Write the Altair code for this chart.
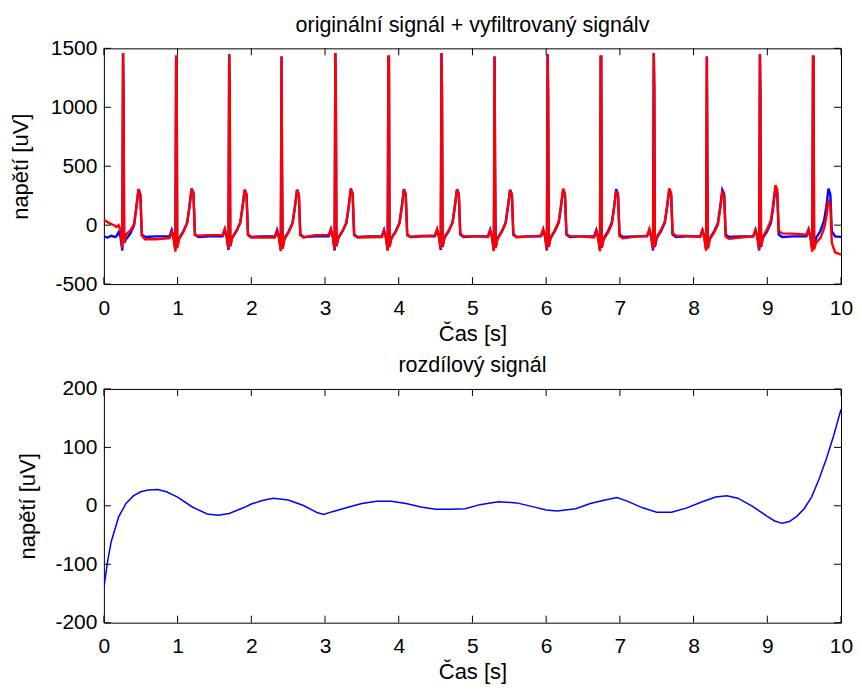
import altair as alt
import pandas as pd

# ---------------- data ----------------
# time [s], one heartbeat per line
ecg_t = [
    0.00, 0.05, 0.10, 0.15,
    0.17, 0.20, 0.225, 0.25, 0.26, 0.267, 0.275, 0.30, 0.36, 0.41, 0.44, 0.47, 0.495, 0.515, 0.56, 0.71,
    0.89, 0.92, 0.945, 0.97, 0.98, 0.987, 0.995, 1.02, 1.08, 1.13, 1.16, 1.19, 1.215, 1.235, 1.28, 1.43,
    1.61, 1.64, 1.665, 1.69, 1.70, 1.707, 1.715, 1.74, 1.80, 1.85, 1.88, 1.91, 1.935, 1.955, 2.00, 2.15,
    2.32, 2.35, 2.375, 2.40, 2.41, 2.417, 2.425, 2.45, 2.51, 2.56, 2.59, 2.62, 2.645, 2.665, 2.71, 2.86,
    3.05, 3.08, 3.105, 3.13, 3.14, 3.147, 3.155, 3.18, 3.24, 3.29, 3.32, 3.35, 3.375, 3.395, 3.44, 3.59,
    3.77, 3.80, 3.825, 3.85, 3.86, 3.867, 3.875, 3.90, 3.96, 4.01, 4.04, 4.07, 4.095, 4.115, 4.16, 4.31,
    4.49, 4.52, 4.545, 4.57, 4.58, 4.587, 4.595, 4.62, 4.68, 4.73, 4.76, 4.79, 4.815, 4.835, 4.88, 5.03,
    5.21, 5.24, 5.265, 5.29, 5.30, 5.307, 5.315, 5.34, 5.40, 5.45, 5.48, 5.51, 5.535, 5.555, 5.60, 5.75,
    5.93, 5.96, 5.985, 6.01, 6.02, 6.027, 6.035, 6.06, 6.12, 6.17, 6.20, 6.23, 6.255, 6.275, 6.32, 6.47,
    6.65, 6.68, 6.705, 6.73, 6.74, 6.747, 6.755, 6.78, 6.84, 6.89, 6.92, 6.95, 6.975, 6.995, 7.04, 7.19,
    7.37, 7.40, 7.425, 7.45, 7.46, 7.467, 7.475, 7.50, 7.56, 7.61, 7.64, 7.67, 7.695, 7.715, 7.76, 7.91,
    8.09, 8.12, 8.145, 8.17, 8.18, 8.187, 8.195, 8.22, 8.28, 8.33, 8.36, 8.39, 8.415, 8.435, 8.48, 8.63,
    8.81, 8.84, 8.865, 8.89, 8.90, 8.907, 8.915, 8.94, 9.00, 9.05, 9.08, 9.11, 9.135, 9.155, 9.20, 9.35,
    9.53, 9.56, 9.585, 9.61, 9.62, 9.627, 9.635, 9.66, 9.72, 9.77, 9.80, 9.83, 9.855, 9.875, 9.92, 10.0,
]

# original signal (blue) [uV]
ecg_original = [
    -95, -105, -90, -100,
    -95, -60, -100, -215, 1460, 1110, -150, -120, -70, 0, 150, 305, 260, -80, -100, -95,
    -95, -40, -100, -210, 1430, 1430, -180, -110, -50, 20, 150, 310, 270, -80, -100, -95,
    -95, -40, -100, -210, 1450, 1130, -180, -110, -50, 20, 150, 300, 260, -80, -100, -95,
    -95, -40, -100, -210, 1430, 480, -190, -110, -50, 20, 150, 300, 260, -80, -100, -95,
    -95, -40, -100, -215, 1460, 1100, -180, -110, -50, 20, 150, 310, 265, -80, -100, -95,
    -95, -40, -100, -210, 1430, 1430, -180, -110, -50, 20, 150, 305, 265, -80, -100, -95,
    -95, -40, -100, -210, 1460, 1110, -185, -110, -50, 20, 150, 300, 260, -80, -100, -95,
    -95, -40, -100, -215, 1430, 480, -190, -110, -50, 20, 150, 300, 260, -80, -100, -95,
    -95, -40, -100, -215, 1450, 1080, -185, -110, -50, 20, 150, 300, 260, -80, -100, -95,
    -95, -40, -100, -210, 1430, 1430, -180, -110, -50, 20, 150, 305, 265, -80, -100, -95,
    -95, -40, -100, -215, 1460, 1150, -185, -110, -50, 20, 150, 300, 260, -80, -100, -95,
    -95, -40, -100, -210, 1430, 480, -190, -110, -50, 20, 150, 300, 265, -80, -100, -95,
    -95, -40, -100, -215, 1450, 1080, -185, -110, -50, 20, 150, 310, 270, -80, -100, -95,
    -95, -40, -100, -210, 1430, 1430, -180, -110, -50, 40, 150, 310, 260, -50, -95, -100,
]

# filtered signal (red) [uV]
ecg_filtered = [
    45, 25, 10, -5,
    -15, 0, -40, -200, 1460, 1110, -150, -80, -45, 10, 150, 305, 255, -90, -120, -120,
    -110, -55, -115, -225, 1430, 1430, -195, -120, -55, 20, 150, 310, 270, -80, -90, -85,
    -85, -30, -90, -200, 1450, 1130, -175, -105, -45, 20, 150, 300, 260, -85, -105, -105,
    -105, -50, -110, -220, 1430, 480, -200, -120, -55, 15, 145, 300, 255, -85, -105, -85,
    -85, -30, -90, -205, 1460, 1100, -175, -105, -45, 20, 150, 310, 265, -85, -105, -103,
    -102, -47, -107, -217, 1430, 1430, -187, -117, -55, 15, 145, 300, 260, -85, -100, -92,
    -88, -33, -93, -203, 1460, 1110, -178, -103, -43, 25, 155, 305, 265, -75, -95, -93,
    -100, -45, -105, -220, 1430, 480, -195, -117, -57, 15, 145, 295, 255, -83, -103, -97,
    -90, -33, -92, -207, 1450, 1080, -177, -102, -40, 30, 160, 310, 268, -75, -95, -95,
    -105, -52, -112, -222, 1430, 1430, -192, -122, -62, 7, 137, 290, 250, -93, -112, -100,
    -90, -33, -92, -207, 1460, 1150, -177, -100, -38, 32, 162, 312, 272, -68, -90, -92,
    -100, -45, -107, -218, 1430, 480, -198, -120, -62, 5, 134, 283, 248, -97, -116, -105,
    -95, -38, -96, -210, 1450, 1080, -178, -100, -32, 45, 178, 340, 300, -50, -70, -72,
    -80, -35, -105, -225, 1430, 1430, -205, -150, -110, -30, 65, 215, 160, -150, -230, -250,
]

# difference signal [uV]
diff_t = [0.0, 0.05, 0.1, 0.2, 0.3, 0.4, 0.5, 0.6, 0.73, 0.85, 1.0, 1.2, 1.4, 1.55, 1.7,
          1.9, 2.0, 2.15, 2.3, 2.5, 2.7, 2.9, 2.98, 3.1, 3.3, 3.5, 3.7, 3.9, 4.1, 4.3,
          4.5, 4.7, 4.9, 5.1, 5.35, 5.6, 5.8, 6.0, 6.15, 6.4, 6.6, 6.8, 6.96, 7.1, 7.3,
          7.5, 7.7, 7.9, 8.1, 8.3, 8.45, 8.6, 8.8, 9.0, 9.1, 9.2, 9.3, 9.4, 9.5, 9.6,
          9.7, 9.8, 9.9, 10.0]
diff_v = [-140, -95, -61, -19, 4, 17, 24, 27, 28, 24, 15, -2, -14, -16, -13,
          -3, 3, 9, 13, 10, 1, -12, -15, -10, -3, 4, 8, 8, 4, -2,
          -6, -6, -5, 2, 7, 5, -1, -7, -9, -5, 4, 10, 14, 8, -3,
          -11, -11, -4, 6, 15, 17, 13, -1, -18, -26, -30, -27, -18, -5, 15,
          45, 80, 120, 165]

x_ticks = [0, 1, 2, 3, 4, 5, 6, 7, 8, 9, 10]
y_ticks_top = [-500, 0, 500, 1000, 1500]
y_ticks_bottom = [-200, -100, 0, 100, 200]

title_top = "originální signál + vyfiltrovaný signálv"
title_bottom = "rozdílový signál"
x_title = "Čas [s]"
y_title = "napětí [uV]"

# ---------------- chart ----------------
FONT = "Liberation Sans"
FS_TICK = 21
FS_AX = 22
FS_TITLE = 21.5
W = 738
H_TOP = 236
H_BOT = 234
TL = 7  # inner tick length

label_expr = "datum.value < 0 ? '-' + format(-datum.value, 'd') : format(datum.value, 'd')"


def x_axis():
    return alt.Axis(values=x_ticks, ticks=False, domain=False, grid=False,
                    labelFontSize=FS_TICK, labelFont=FONT, labelColor="black",
                    labelPadding=13, labelFlush=False, labelOverlap=False,
                    labelExpr=label_expr,
                    title=x_title, titleFontSize=FS_AX, titleFont=FONT,
                    titleFontWeight="normal", titleColor="black", titlePadding=5)


def y_axis(vals, tpad):
    return alt.Axis(values=vals, ticks=False, domain=False, grid=False,
                    labelFontSize=FS_TICK, labelFont=FONT, labelColor="black",
                    labelPadding=7, labelFlush=False, labelOverlap=False,
                    labelExpr=label_expr,
                    title=y_title, titleFontSize=FS_AX, titleFont=FONT,
                    titleFontWeight="normal", titleColor="black", titlePadding=tpad)


def inner_ticks(xs, ys, yfield, yvals, H):
    xdf = pd.DataFrame({"t": x_ticks})
    ydf = pd.DataFrame({yfield: yvals})
    r = dict(color="black", strokeWidth=1)
    bx = alt.Chart(xdf).mark_rule(**r).encode(
        x=alt.X("t:Q", scale=xs), y=alt.value(H), y2=alt.value(H - TL))
    tx = alt.Chart(xdf).mark_rule(**r).encode(
        x=alt.X("t:Q", scale=xs), y=alt.value(0), y2=alt.value(TL))
    ly = alt.Chart(ydf).mark_rule(**r).encode(
        y=alt.Y(f"{yfield}:Q", scale=ys), x=alt.value(0), x2=alt.value(TL))
    ry = alt.Chart(ydf).mark_rule(**r).encode(
        y=alt.Y(f"{yfield}:Q", scale=ys), x=alt.value(W - TL), x2=alt.value(W))
    return [bx, tx, ly, ry]


ecg = pd.DataFrame({"t": ecg_t, "orig": ecg_original, "filt": ecg_filtered})
dif = pd.DataFrame({"t": diff_t, "v": diff_v})

xs = alt.Scale(domain=[0, 10], nice=False, zero=False)
ys_top = alt.Scale(domain=[-500, 1500], nice=False, zero=False)
ys_bot = alt.Scale(domain=[-200, 200], nice=False, zero=False)

blue = alt.Chart(ecg).mark_line(color="#0000ff", strokeWidth=2.4, clip=True).encode(
    x=alt.X("t:Q", scale=xs, axis=x_axis()),
    y=alt.Y("orig:Q", scale=ys_top, axis=y_axis(y_ticks_top, 18)),
    order="t:Q")
red = alt.Chart(ecg).mark_line(color="#ff0000", strokeWidth=2.4, clip=True).encode(
    x=alt.X("t:Q", scale=xs),
    y=alt.Y("filt:Q", scale=ys_top, title=y_title),
    order="t:Q")

top = alt.layer(blue, red, *inner_ticks(xs, ys_top, "orig", y_ticks_top, H_TOP)).properties(
    width=W, height=H_TOP,
    title=alt.TitleParams(title_top, fontSize=FS_TITLE, font=FONT, fontWeight="normal",
                          color="black", offset=1))

dline = alt.Chart(dif).mark_line(color="#0000ff", strokeWidth=1.5, clip=True).encode(
    x=alt.X("t:Q", scale=xs, axis=x_axis()),
    y=alt.Y("v:Q", scale=ys_bot, axis=y_axis(y_ticks_bottom, 15)),
    order="t:Q")

bottom = alt.layer(dline, *inner_ticks(xs, ys_bot, "v", y_ticks_bottom, H_BOT)).properties(
    width=W, height=H_BOT,
    title=alt.TitleParams(title_bottom, fontSize=FS_TITLE, font=FONT, fontWeight="normal",
                          color="black", offset=1))

chart = alt.vconcat(top, bottom, spacing=10).properties(
    padding={"left": 0, "top": 6, "right": 0, "bottom": 0},
    background="white"
).configure_view(stroke="black", strokeWidth=1)

chart.save("out.html", embed_options={"renderer": "svg", "actions": False})
